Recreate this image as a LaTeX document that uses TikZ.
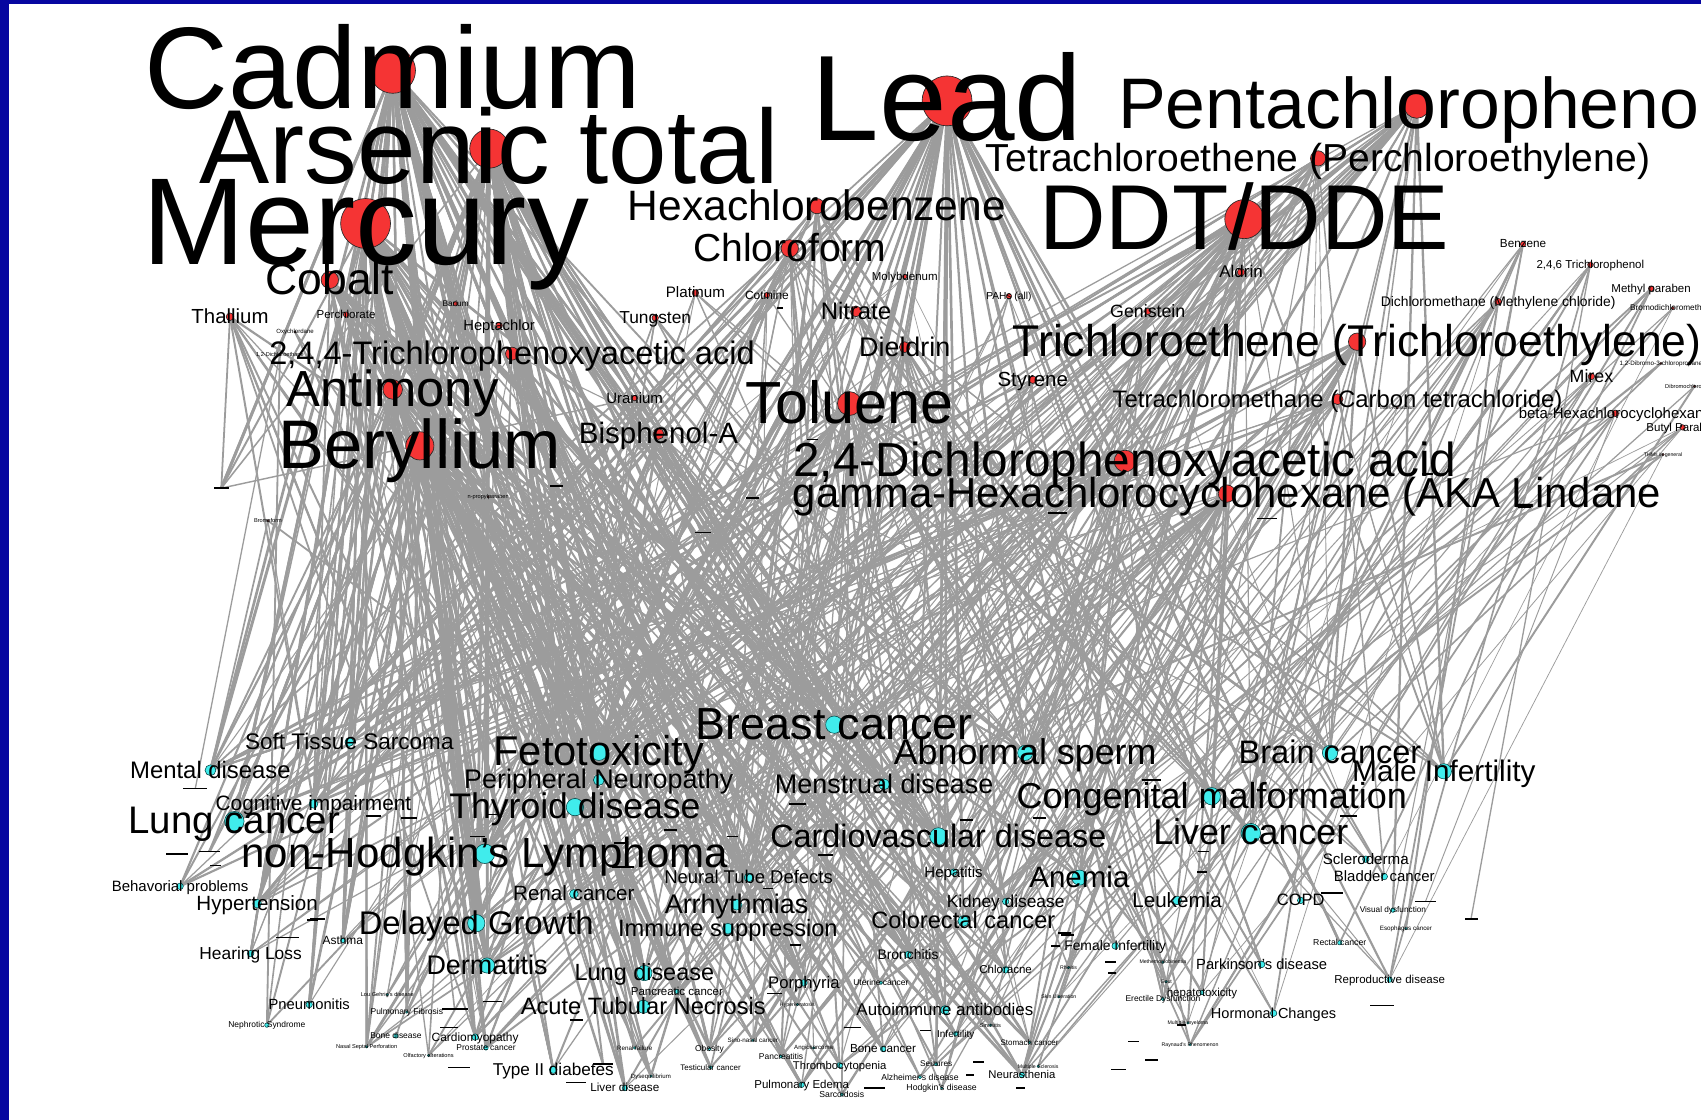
\documentclass[tikz,border=0pt]{standalone}
\usepackage{fontspec}
\setmainfont{Liberation Sans}
\usepackage{tikz}
\usetikzlibrary{calc}
\definecolor{frameblue}{RGB}{6,6,160}
\definecolor{chemred}{RGB}{245,52,52}
\definecolor{discyan}{RGB}{64,236,236}
\definecolor{edgegray}{RGB}{156,156,156}
\pgfdeclarelayer{paper}
\pgfdeclarelayer{edges}
\pgfsetlayers{paper,edges,main}
\tikzstyle{chemdot} = [circle, fill=chemred, draw=black!85, line width=0.3pt, inner sep=0pt]
\tikzstyle{disdot} = [circle, fill=discyan, draw=teal!50!black, line width=0.25pt, inner sep=0pt]
\tikzstyle{lbl} = [anchor=base, inner sep=0pt, text=black]
\tikzstyle{edge} = [draw=edgegray]
\tikzstyle{tick} = [rectangle, fill=black, inner sep=0pt, minimum height=0.7pt]
% name, x, y, radius, font size, text
\newcommand{\chemnode}[6]{%
  \node[chemdot, minimum size=#4pt] (#1) at (#2,#3) {};
  \node[lbl, font=\fontsize{#5}{#5}\selectfont, yshift={-0.33*#5pt}] (#1-txt) at (#1) {#6};}
\newcommand{\disnode}[6]{%
  \node[disdot, minimum size=#4pt] (#1) at (#2,#3) {};
  \node[lbl, font=\fontsize{#5}{#5}\selectfont, yshift={-0.33*#5pt}] (#1-txt) at (#1) {#6};}
\pgfmathsetseed{1957}
\pgfmathdeclarerandomlist{dall}{%
{brca}{brca}{brca}{brca}{brca}{feto}{feto}{feto}{feto}{feto}{lungc}{lungc}{lungc}{lungc}{lungc}%
{nhl}{nhl}{nhl}{nhl}{nhl}{thyr}{thyr}{thyr}{thyr}{thyr}%
{sperm}{sperm}{sperm}{sperm}{cong}{cong}{cong}{cong}{livc}{livc}{livc}{livc}{cvd}{cvd}{cvd}{cvd}%
{delg}{delg}{delg}{delg}{brain}{brain}{brain}{brain}{mali}{mali}{mali}{mali}{anem}{anem}{anem}{anem}{derm}{derm}{derm}{derm}%
{sts}{sts}{sts}{ment}{ment}{ment}{pneu}{pneu}{pneu}{mens}{mens}{mens}{cogn}{cogn}{cogn}{arr}{arr}{arr}%
{imm}{imm}{imm}{colo}{colo}{colo}{lungd}{lungd}{lungd}{atn}{atn}{atn}{renc}{renc}{renc}{hyp}{hyp}{hyp}%
{behav}{behav}{ntd}{ntd}{hepa}{hepa}{scl}{scl}{blad}{blad}{kid}{kid}{leuk}{leuk}{copd}{copd}%
{asth}{asth}{hear}{hear}{femi}{femi}{bron}{bron}{chla}{chla}{park}{park}{panc}{panc}{porph}{porph}%
{repro}{repro}{pnmt}{pnmt}{auto}{auto}{hept2}{hept2}{horm}{horm}{t2d}{t2d}{card}{card}{thromb}{thromb}%
{pedema}{pedema}{bonec}{bonec}{neura}{neura}{livd}{livd}%
{uter}{erec}{neph}{lou}{pulf}{bone}{nsp}{olf}{pros}{renf}{dyseq}{obes}{test}{sino}{angio}{pancr}{sarc}%
{infer}{seiz}{alz}{hodg}{stom}{sinus}{skin}{rhin}{meth}{gout}{mscl}{mmye}{rayn}{hyperk}{visd}{esoph}{rect}}
\pgfmathdeclarerandomlist{dlm}{%
{brca}{brca}{brca}{brca}{feto}{feto}{feto}{feto}{feto}{lungc}{lungc}{lungc}{lungc}{lungc}%
{nhl}{nhl}{nhl}{nhl}{nhl}{thyr}{thyr}{thyr}{thyr}{thyr}{delg}{delg}{delg}{delg}{derm}{derm}{derm}{derm}%
{sperm}{sperm}{cvd}{cvd}{cvd}{anem}{anem}{sts}{sts}{sts}{ment}{ment}{ment}{pneu}{pneu}{pneu}{mens}{mens}%
{cogn}{cogn}{cogn}{arr}{arr}{arr}{imm}{imm}{imm}{colo}{colo}{lungd}{lungd}{lungd}{atn}{atn}{atn}%
{renc}{renc}{renc}{hyp}{hyp}{hyp}{behav}{behav}{ntd}{ntd}{hepa}{hepa}{kid}{kid}{asth}{asth}{hear}{hear}%
{bron}{chla}{panc}{panc}{porph}{porph}{pnmt}{pnmt}{auto}{auto}{t2d}{t2d}{card}{card}{thromb}{pedema}%
{bonec}{neura}{livd}{livd}{uter}{neph}{lou}{pulf}{bone}{nsp}{olf}{pros}{renf}{dyseq}{obes}{test}{sino}%
{angio}{pancr}{sarc}{infer}{seiz}{alz}{hodg}{stom}{sinus}{hyperk}{tk1}{tk14}{tk15}{tk24}{tk58}{tk63}}
\pgfmathdeclarerandomlist{dleft}{%
{brca}{feto}{feto}{feto}{lungc}{lungc}{lungc}{nhl}{nhl}{nhl}{thyr}{thyr}{thyr}{delg}{delg}{derm}{derm}%
{sts}{sts}{ment}{ment}{pneu}{pneu}{cogn}{cogn}{arr}{imm}{lungd}{atn}{renc}{hyp}{hyp}%
{behav}{behav}{ntd}{asth}{hear}{hear}{panc}{pnmt}{pnmt}{t2d}{card}{livd}%
{neph}{lou}{pulf}{bone}{nsp}{olf}{pros}{renf}{dyseq}{obes}{test}{sino}{pancr}{hyperk}{tk1}{tk11}{tk14}}
\pgfmathdeclarerandomlist{dright}{%
{brca}{sperm}{sperm}{cong}{cong}{livc}{livc}{cvd}{brain}{brain}{mali}{mali}{mali}{anem}{mens}{colo}%
{hepa}{scl}{scl}{blad}{blad}{kid}{leuk}{copd}{femi}{bron}{chla}{park}{repro}{repro}{auto}{hept2}{horm}%
{bonec}{neura}{uter}{erec}{infer}{seiz}{alz}{hodg}{stom}{sinus}{skin}{rhin}{meth}{gout}{mscl}{mmye}%
{rayn}{visd}{visd}{esoph}{rect}{thromb}{tk52}{tk53}{tk54}{tk55}{tk56}}
\begin{document}
\begin{tikzpicture}[x=0.5pt, y=-0.5pt]
\useasboundingbox (0,0) rectangle (1568,1032);
\begin{pgfonlayer}{paper}
  \fill[frameblue] (0,0) rectangle (1568,1032);
  \fill[white] (8,3.5) rectangle (1568,1032);
\end{pgfonlayer}
\clip (8,3.5) rectangle (1568,1032);

% chemicals
\chemnode{cad}{362}{65}{21}{53.5}{Cadmium}
\chemnode{ars}{451}{137}{18}{48.5}{Arsenic total}
\chemnode{mer}{337}{206}{23}{57}{Mercury}
\chemnode{lead}{873}{93}{23}{56}{Lead}
\chemnode{pcp}{1306}{97}{12}{33}{Pentachlorophenol}
\chemnode{perc}{1215}{146}{7}{18}{Tetrachloroethene (Perchloroethylene)}
\chemnode{ddt}{1147}{202}{18}{42.5}{DDT/DDE}
\chemnode{hcb}{753}{190}{7}{19.6}{Hexachlorobenzene}
\chemnode{chlf}{728}{229}{8}{18}{Chloroform}
\chemnode{cob}{304}{258}{8}{20.5}{Cobalt}
\chemnode{thal}{212}{292}{3.5}{9.4}{Thallium}
\chemnode{pchl}{319}{290}{2.5}{5.3}{Perchlorate}
\chemnode{bar}{420}{280}{2}{3.8}{Barium}
\chemnode{hept}{460}{300}{3}{6.8}{Heptachlor}
\chemnode{oxy}{272}{306}{1}{2.8}{Oxychlordane}
\chemnode{dce}{258}{327}{1}{2.6}{1,2-Dichloroethane}
\chemnode{tcpa}{472}{326}{6}{15}{2,4,4-Trichlorophenoxyacetic acid}
\chemnode{ant}{362}{359}{9}{23.4}{Antimony}
\chemnode{ber}{387}{411}{13}{31.7}{Beryllium}
\chemnode{plat}{641}{270}{3}{7}{Platinum}
\chemnode{cot}{707}{272}{2.5}{5.5}{Cotinine}
\chemnode{tung}{604}{293}{3}{8}{Tungsten}
\chemnode{moly}{834}{255}{2}{5.3}{Molybdenum}
\chemnode{nit}{789}{287}{5}{11}{Nitrate}
\chemnode{diel}{834}{320}{5}{12.4}{Dieldrin}
\chemnode{pah}{930}{273}{2.5}{4.7}{PAHs (all)}
\chemnode{gen}{1058}{287}{3}{8.2}{Genistein}
\chemnode{ald}{1144}{251}{3.5}{7.8}{Aldrin}
\chemnode{tce}{1251}{315}{8}{20.5}{Trichloroethene (Trichloroethylene)}
\chemnode{sty}{952}{350}{3.5}{9.4}{Styrene}
\chemnode{ctc}{1233}{368}{5}{11}{Tetrachloromethane (Carbon tetrachloride)}
\chemnode{ura}{585}{367}{2.5}{6.9}{Uranium}
\chemnode{bpa}{607}{400}{5}{13.6}{Bisphenol-A}
\chemnode{tol}{783}{372}{11}{27.4}{Toluene}
\chemnode{twod}{1037}{425}{10}{22}{2,4-Dichlorophenoxyacetic acid}
\chemnode{lind}{1131}{455}{8}{19.3}{gamma-Hexachlorocyclohexane (AKA Lindane}
\chemnode{benz}{1404}{225}{2.5}{5.4}{Benzene}
\chemnode{tcp}{1466}{244}{2.5}{5.3}{2,4,6 Trichlorophenol}
\chemnode{mpar}{1522}{266}{2.5}{5.3}{Methyl paraben}
\chemnode{dcm}{1381}{278}{3}{6.4}{Dichloromethane (Methylene chloride)}
\chemnode{bdcm}{1542}{284}{1.5}{3.8}{Bromodichloromethane}
\chemnode{mir}{1467}{347}{3}{8.2}{Mirex}
\chemnode{dbcp}{1531}{335}{1}{2.9}{1,2-Dibromo-3-chloropropane}
\chemnode{dbcm}{1562}{356}{1}{2.6}{Dibromochloromethane}
\chemnode{bhch}{1489}{381}{3}{6.9}{beta-Hexachlorocyclohexane}
\chemnode{bpar}{1551}{394}{2.5}{5.3}{Butyl Paraben}
\chemnode{thm}{1533}{419}{1}{2.4}{THMs in general}
\chemnode{tnon}{1288}{376}{1}{2.2}{trans-Nonachlor}
\chemnode{npp}{450}{458}{1}{2.6}{n-propylparaben}
\chemnode{brf}{247}{480}{1}{2.6}{Bromoform}

% diseases
\disnode{brca}{769}{668}{8}{20.7}{Breast cancer}
\disnode{feto}{552}{693}{8}{19.2}{Fetotoxicity}
\disnode{sts}{322}{684}{4}{10.4}{Soft Tissue Sarcoma}
\disnode{ment}{194}{710}{5}{11}{Mental disease}
\disnode{sperm}{945}{694}{7}{16.5}{Abnormal sperm}
\disnode{brain}{1226}{694}{7}{15}{Brain cancer}
\disnode{mali}{1331}{711}{7}{13.7}{Male Infertility}
\disnode{pneu}{552}{719}{5}{12.4}{Peripheral Neuropathy}
\disnode{mens}{815}{723}{5}{12.4}{Menstrual disease}
\disnode{cong}{1117}{734}{8}{16.6}{Congenital malformation}
\disnode{cogn}{289}{741}{4}{9.6}{Cognitive impairment}
\disnode{lungc}{216}{757}{9}{17.7}{Lung cancer}
\disnode{thyr}{530}{744}{8}{16.4}{Thyroid disease}
\disnode{cvd}{865}{771}{8}{14.9}{Cardiovascular disease}
\disnode{livc}{1153}{768}{9}{16.5}{Liver cancer}
\disnode{nhl}{447}{787}{9}{19.4}{non-Hodgkin's Lymphoma}
\disnode{behav}{166}{817}{3}{6.9}{Behavorial problems}
\disnode{hyp}{237}{833}{4}{9.5}{Hypertension}
\disnode{ntd}{690}{809}{4}{8.5}{Neural Tube Defects}
\disnode{hepa}{879}{804}{3}{6.9}{Hepatitis}
\disnode{anem}{995}{809}{7}{13.6}{Anemia}
\disnode{scl}{1259}{792}{3}{7}{Scleroderma}
\disnode{blad}{1276}{808}{3}{6.9}{Bladder cancer}
\disnode{renc}{529}{824}{4}{9.5}{Renal cancer}
\disnode{arr}{679}{834}{5}{12.4}{Arrhythmias}
\disnode{kid}{927}{831}{3}{8}{Kidney disease}
\disnode{leuk}{1085}{830}{4}{9.5}{Leukemia}
\disnode{copd}{1199}{830}{3}{7.6}{COPD}
\disnode{delg}{439}{851}{8}{15.1}{Delayed Growth}
\disnode{imm}{671}{856}{5}{10.9}{Immune suppression}
\disnode{colo}{888}{849}{5}{10.9}{Colorectal cancer}
\disnode{asth}{316}{867}{2}{5.5}{Asthma}
\disnode{hear}{231}{879}{3}{8}{Hearing Loss}
\disnode{femi}{1028}{872}{3}{6.4}{Female Infertility}
\disnode{derm}{449}{890}{7}{12.4}{Dermatitis}
\disnode{lungd}{594}{897}{7}{10.8}{Lung disease}
\disnode{bron}{837}{880}{3}{6.4}{Bronchitis}
\disnode{chla}{927}{894}{3}{5.3}{Chloracne}
\disnode{park}{1163}{889}{3}{6.8}{Parkinson's disease}
\disnode{panc}{624}{914}{2}{5.3}{Pancreatic cancer}
\disnode{porph}{741}{906}{3}{7.7}{Porphyria}
\disnode{uter}{812}{906}{1.5}{3.9}{Uterine cancer}
\disnode{repro}{1281}{903}{2.5}{5.3}{Reproductive disease}
\disnode{pnmt}{285}{926}{3}{6.8}{Pneumonitis}
\disnode{atn}{593}{928}{6}{10.9}{Acute Tubular Necrosis}
\disnode{auto}{871}{931}{4}{7.8}{Autoimmune antibodies}
\disnode{hept2}{1108}{915}{2}{5.3}{hepatotoxicity}
\disnode{erec}{1072}{921}{1.5}{3.9}{Erectile Dysfunction}
\disnode{horm}{1174}{934}{3}{6.7}{Hormonal Changes}
\disnode{neph}{246}{945}{2}{3.9}{Nephrotic Syndrome}
\disnode{lou}{357}{917}{1}{2.6}{Lou Gehrig's disease}
\disnode{pulf}{375}{933}{1}{3.9}{Pulmonary Fibrosis}
\disnode{bone}{365}{955}{2}{3.9}{Bone disease}
\disnode{nsp}{338}{965}{1}{2.6}{Nasal Septal Perforation}
\disnode{olf}{395}{973}{1}{2.6}{Olfactory alterations}
\disnode{card}{438}{956}{3}{5.5}{Cardiomyopathy}
\disnode{pros}{448}{966}{2}{3.9}{Prostate cancer}
\disnode{t2d}{510}{986}{3.5}{7.9}{Type II diabetes}
\disnode{livd}{576}{1003}{2.5}{5.4}{Liver disease}
\disnode{renf}{585}{966}{1}{2.9}{Renal failure}
\disnode{dyseq}{600}{992}{1}{2.8}{Dysequilibrium}
\disnode{obes}{654}{967}{1.5}{3.9}{Obesity}
\disnode{test}{655}{984}{1.5}{3.7}{Testicular cancer}
\disnode{sino}{694}{959}{1}{2.9}{Sino-nasal cancer}
\disnode{angio}{750}{966}{1}{2.8}{Angiosarcoma}
\disnode{pancr}{720}{974}{1.5}{3.9}{Pancreatitis}
\disnode{thromb}{774}{982}{2.5}{5.2}{Thrombocytopenia}
\disnode{pedema}{739}{1000}{2.5}{5.3}{Pulmonary Edema}
\disnode{sarc}{776}{1009}{1.5}{4}{Sarcoidosis}
\disnode{bonec}{814}{967}{2.5}{5.4}{Bone cancer}
\disnode{infer}{881}{953}{2}{4.6}{Infertility}
\disnode{seiz}{863}{981}{1.5}{3.8}{Seizures}
\disnode{alz}{848}{993}{1.5}{4}{Alzheimer's disease}
\disnode{hodg}{868}{1003}{1}{4}{Hodgkin's disease}
\disnode{stom}{949}{961}{1}{3.7}{Stomach cancer}
\disnode{neura}{942}{991}{2.5}{5.2}{Neurasthenia}
\disnode{sinus}{913}{945}{1}{2.6}{Sinusitis}
\disnode{skin}{976}{919}{1}{2.4}{Skin Ulceration}
\disnode{rhin}{985}{892}{1}{2.4}{Rhinitis}
\disnode{meth}{1072}{887}{1}{2.4}{Methemoglobinemia}
\disnode{gout}{1075}{905}{1}{2.4}{Gout}
\disnode{mscl}{957}{983}{1}{2.4}{Multiple Sclerosis}
\disnode{mmye}{1095}{943}{1}{2.4}{Multiple myeloma}
\disnode{rayn}{1097}{963}{1}{2.4}{Raynaud's Phenomenon}
\disnode{hyperk}{735}{926}{1}{2.4}{Hyperkeratosis}
\disnode{visd}{1284}{839}{2}{3.8}{Visual dysfunction}
\disnode{esoph}{1296}{856}{1}{2.9}{Esophagus cancer}
\disnode{rect}{1235}{869}{2}{4}{Rectal cancer}

% unreadable tiny labels
\foreach \x/\y/\w [count=\i] in {204/450/14, 513/448/12, 719/284/6, 694/459/12, 648/491/14, 749/405/10,
    975/473/18, 1316/437/10, 1168/478/18, 1405/468/12,
    180/727/22, 344/752/14, 377/754/14, 163/787/20, 193/785/20, 199/798/10, 289/800/16, 440/771/14,
    453/751/10, 616/765/8, 574/799/20, 571/777/10, 293/847/14, 265/864/22, 288/848/10, 735/741/16,
    675/771/10, 619/765/10, 761/788/14, 708/819/10, 891/756/12, 958/754/12, 1060/719/14, 1108/804/10,
    1109/785/10, 981/860/12, 733/871/10, 714/916/14, 786/947/16, 853/950/10, 806/1003/20, 894/991/8,
    902/979/10, 941/1003/8, 984/862/12, 973/872/8, 1024/887/10, 1025/897/8, 1045/960/10, 1061/977/12,
    1031/986/14, 1228/823/20, 1314/831/20, 1356/847/12, 1274/927/22, 1243/752/16, 1065/719/10,
    419/930/24, 414/947/16, 454/923/18, 423/984/20, 531/940/12, 556/981/18, 531/998/18, 1089/945/8}
  \node[tick, minimum width=\w*0.5pt] (tk\i) at (\x,\y) {};

% chemical / count / target list / base width
\begin{pgfonlayer}{edges}
\foreach \c/\n/\l/\b in {cad/70/dlm/0.7, ars/70/dlm/0.7, mer/66/dlm/0.7, lead/64/dall/0.6,
    ddt/42/dall/0.45, pcp/30/dall/0.4, perc/24/dall/0.35, hcb/18/dall/0.4, chlf/22/dall/0.45,
    cob/22/dlm/0.6, thal/10/dleft/0.35, pchl/5/dleft/0.35, bar/2/dleft/0.3, hept/6/dleft/0.35,
    oxy/2/dleft/0.3, dce/2/dleft/0.3, tcpa/18/dall/0.45, ant/32/dlm/0.65, ber/50/dlm/0.7,
    plat/6/dall/0.35, cot/5/dall/0.35, tung/6/dall/0.35, moly/4/dall/0.3, nit/12/dall/0.4,
    diel/14/dall/0.4, pah/5/dall/0.3, gen/6/dright/0.3, ald/9/dall/0.35, tce/24/dall/0.4,
    sty/8/dall/0.35, ctc/16/dall/0.35, ura/6/dleft/0.35, bpa/14/dall/0.45, tol/28/dall/0.5,
    twod/24/dall/0.45, lind/24/dall/0.4, benz/7/dright/0.3, tcp/7/dright/0.3, mpar/6/dright/0.3,
    dcm/9/dright/0.3, bdcm/3/dright/0.3, mir/6/dright/0.3, dbcp/2/dright/0.3, dbcm/2/dright/0.3,
    bhch/7/dright/0.3, bpar/5/dright/0.3, thm/3/dright/0.3, tnon/2/dright/0.3, npp/2/dleft/0.3,
    brf/3/dleft/0.3}{
  \foreach \k in {1,...,\n}{
    \pgfmathrandomitem{\d}{\l}
    \pgfmathsetmacro{\w}{\b+0.7*rnd}
    \draw[edge, line width=\w pt] (\c.center) -- (\d.center);
  }
}
\end{pgfonlayer}
\end{tikzpicture}
\end{document}
